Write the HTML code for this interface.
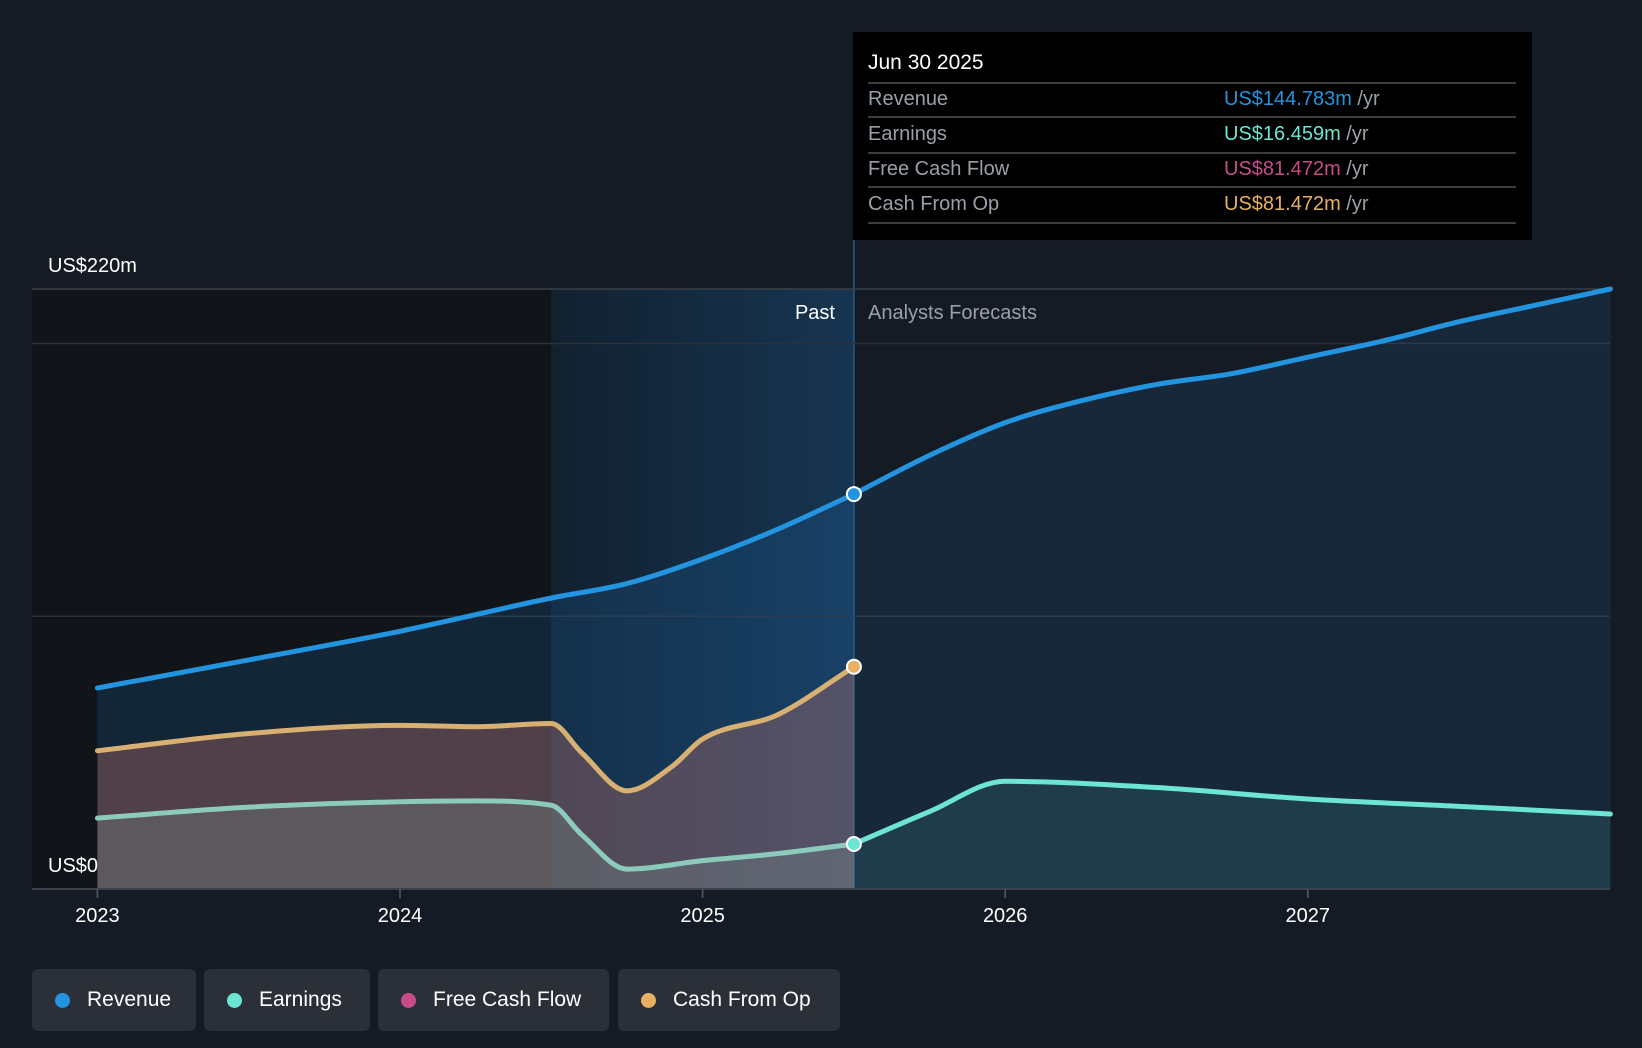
<!DOCTYPE html>
<html><head><meta charset="utf-8"><style>
html,body{margin:0;padding:0;background:#151b24;width:1642px;height:1048px;overflow:hidden;font-family:"Liberation Sans",sans-serif}
.leg{position:absolute;top:969px;height:62px;background:#2a2f38;border-radius:6px;color:#fff;font-size:21px;display:flex;align-items:center;box-sizing:border-box;padding-left:23px}
.leg i{display:inline-block;width:15px;height:15px;border-radius:50%;margin-right:17px}
</style></head><body>
<svg id="chart" width="1642" height="1048" style="position:absolute;left:0;top:0"></svg>
<div class="leg" style="left:32px;width:164px"><i style="background:#2394df"></i>Revenue</div>
<div class="leg" style="left:204px;width:166px"><i style="background:#6ce5d3"></i>Earnings</div>
<div class="leg" style="left:378px;width:231px"><i style="background:#c94b8a"></i>Free Cash Flow</div>
<div class="leg" style="left:618px;width:222px"><i style="background:#e8b060"></i>Cash From Op</div>
<script>
const revX=[2023,2023.5,2024,2024.5,2024.75,2025,2025.25,2025.5,2025.75,2026,2026.25,2026.5,2026.75,2027,2027.25,2027.5,2027.75,2028];
const revY=[73.7,84,94.5,106.7,112,121,132,144.8,159,171,179,185,189,195,201,208,214,220];
const cfoX=[2023,2023.5,2024,2024.25,2024.5,2024.6,2024.75,2024.9,2025,2025.25,2025.5];
const cfoY=[50.7,57,60,59.5,60.7,50,36,45,55,64,81.5];
const earnX=[2023,2023.5,2024,2024.25,2024.5,2024.6,2024.75,2025,2025.25,2025.5,2025.75,2026,2026.5,2027,2027.5,2028];
const earnY=[26,30,32,32.3,30.7,20,7.3,10.4,13,16.5,28.4,39.5,37.2,33,30.3,27.5];
const xTicks=[2023,2024,2025,2026,2027];
const NS='http://www.w3.org/2000/svg';
const svg=document.getElementById('chart');
const X=v=>97.4+(v-2023)*302.6;
const Y=v=>889-v*600/220;
const L=32,R=1610,T=289,B=889,NOW=2025.5,PS=2024.5;
function el(t,a,name,parent){const e=document.createElementNS(NS,t);for(const k in a)e.setAttribute(k,a[k]);


(parent||svg).appendChild(e);return e;}
function pathD(xs,ys){const p=xs.map((x,i)=>[X(x),Y(ys[i])]);const n=p.length;
const d=[],m=[];for(let i=0;i<n-1;i++)d.push((p[i+1][1]-p[i][1])/(p[i+1][0]-p[i][0]));
for(let i=0;i<n;i++){if(i==0)m.push(d[0]);else if(i==n-1)m.push(d[n-2]);else m.push(d[i-1]*d[i]<=0?0:(d[i-1]+d[i])/2);}
for(let i=0;i<n-1;i++){if(d[i]==0){m[i]=0;m[i+1]=0;continue;}const a=m[i]/d[i],b=m[i+1]/d[i],s=a*a+b*b;if(s>9){const t=3/Math.sqrt(s);m[i]=t*a*d[i];m[i+1]=t*b*d[i];}}
let s='M'+p[0][0]+','+p[0][1];
for(let i=0;i<n-1;i++){const h=(p[i+1][0]-p[i][0])/3;s+=` C${p[i][0]+h},${p[i][1]+m[i]*h} ${p[i+1][0]-h},${p[i+1][1]-m[i+1]*h} ${p[i+1][0]},${p[i+1][1]}`;}return s;}
function split(xs,ys,past){const a=[],b=[];xs.forEach((x,i)=>{if(past?x<=NOW:x>=NOW){a.push(x);b.push(ys[i]);}});return[a,b];}
const defs=el('defs',{},'defs');
defs.innerHTML='<linearGradient id="pg" x1="0" x2="1"><stop offset="0" stop-color="#122130"/><stop offset="1" stop-color="#163552"/></linearGradient>';
el('rect',{x:L,y:T,width:X(PS)-L,height:B-T,fill:'#111419'},'past-dark-region');
el('rect',{x:X(PS),y:T,width:X(NOW)-X(PS),height:B-T,fill:'url(#pg)'},'past-highlight');
el('line',{x1:X(NOW),x2:X(NOW),y1:240,y2:B,stroke:'#2f5a80','stroke-width':1.5},'now-line');
[100,200].forEach(v=>el('line',{x1:L,x2:R,y1:Y(v),y2:Y(v),stroke:'#2b313b','stroke-width':1.5},'gridline'));
el('line',{x1:L,x2:R,y1:T,y2:T,stroke:'#3a404a','stroke-width':1.5},'top-gridline');
function area(xs,ys,fill,name){const d=pathD(xs,ys)+`L${X(xs[xs.length-1])},${B}L${X(xs[0])},${B}Z`;el('path',{d,fill},name);}
function line(xs,ys,stroke,name){el('path',{d:pathD(xs,ys),fill:'none',stroke,'stroke-width':5,'stroke-linecap':'round'},name);}
let [rpx,rpy]=split(revX,revY,true),[rfx,rfy]=split(revX,revY,false);
let [epx,epy]=split(earnX,earnY,true),[efx,efy]=split(earnX,earnY,false);
area(rpx,rpy,'rgba(35,120,200,0.18)','revenue-area-past');
area(rfx,rfy,'rgba(35,110,180,0.16)','revenue-area-forecast');
area(cfoX,cfoY,'rgba(210,120,110,0.32)','cash-from-op-area');
area(epx,epy,'rgba(130,160,150,0.25)','earnings-area-past');
area(efx,efy,'rgba(80,200,180,0.13)','earnings-area-forecast');
line(rpx,rpy,'#2394df','revenue-line-past');line(rfx,rfy,'#2394df','revenue-line-forecast');
line(cfoX,cfoY,'#d8b072','cash-from-op-line');
line(epx,epy,'#8ccabb','earnings-line-past');line(efx,efy,'#6ce5d3','earnings-line-forecast');
el('line',{x1:L,x2:R,y1:B,y2:B,stroke:'#3a404a','stroke-width':2},'x-axis');
[[revY[revX.indexOf(NOW)],'#2394df','revenue-dot'],[cfoY[cfoX.length-1],'#e8b060','cash-from-op-dot'],[earnY[earnX.indexOf(NOW)],'#6ce5d3','earnings-dot']].forEach(([v,c,n])=>el('circle',{cx:X(NOW),cy:Y(v),r:7,fill:c,stroke:'#fff','stroke-width':2},n));
xTicks.forEach(t=>{el('line',{x1:X(t),x2:X(t),y1:B,y2:B+9,stroke:'#555b65','stroke-width':1.5},'x-tick');
const tx=el('text',{x:X(t),y:922,fill:'#fff','font-size':20,'text-anchor':'middle'},'x-tick-label');tx.textContent=t;});
function txt(x,y,s,c,sz,name,anchor){const t=el('text',{x,y,fill:c,'font-size':sz,'text-anchor':anchor||'start'},name);t.textContent=s;return t;}
txt(48,272,'US$220m','#fff',20,'y-max-label');
txt(48,872,'US$0','#fff',20,'y-zero-label');
txt(835,319,'Past','#fff',20,'past-label','end');
txt(868,319,'Analysts Forecasts','#9aa0a8',20,'forecast-label');
el('rect',{x:853,y:32,width:679,height:208,fill:'#000'},'tooltip');
txt(868,69,'Jun 30 2025','#fff',21,'tooltip-date');
[83,117,153,187,223].forEach(y=>el('line',{x1:868,x2:1516,y1:y,y2:y,stroke:'#3a3d42','stroke-width':2},'tooltip-separator'));
const rows=[['Revenue','US$144.783m','#2394df'],['Earnings','US$16.459m','#6ce5d3'],['Free Cash Flow','US$81.472m','#c94b8a'],['Cash From Op','US$81.472m','#e8b060']];
rows.forEach((r,i)=>{const y=105+i*35;txt(868,y,r[0],'#9aa0a8',20,'tooltip-label');
const t=txt(1224,y,'','#9aa0a8',20,'tooltip-value');t.innerHTML=`<tspan fill="${r[2]}">${r[1]}</tspan> /yr`;});
</script>
</body></html>
